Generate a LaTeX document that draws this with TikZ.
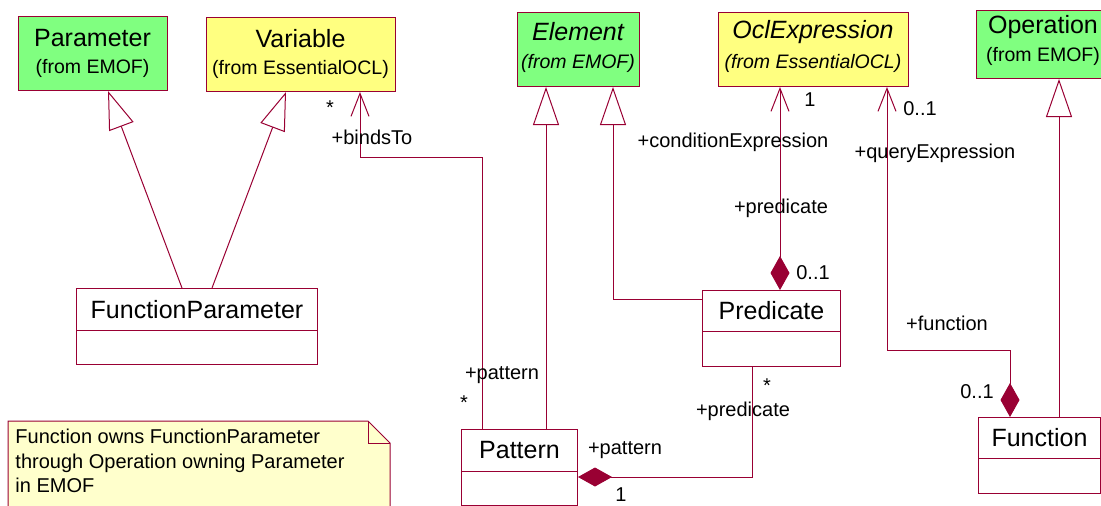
\documentclass[tikz,border=0pt]{standalone}
\usepackage{fontspec}
\setmainfont{Liberation Sans}
\usetikzlibrary{arrows.meta}
\definecolor{lc}{RGB}{153,0,51}
\definecolor{gfill}{RGB}{128,255,128}
\definecolor{yfill}{RGB}{255,255,128}
\definecolor{nfill}{RGB}{255,255,204}
\begin{document}
\begin{tikzpicture}[x=1pt,y=-1pt,line width=1pt,
  box/.style={draw=lc,inner sep=0pt,anchor=north west,font=\fontsize{25}{29}\selectfont},
  gbox/.style={box,fill=gfill},
  ybox/.style={box,fill=yfill},
  wbox/.style={box,fill=white},
  title/.style={inner sep=0pt,font=\fontsize{25}{29}\selectfont},
  sub/.style={inner sep=0pt,font=\fontsize{19.5}{23}\selectfont},
  lbl/.style={inner sep=0pt,font=\fontsize{20}{24}\selectfont},
  gen/.style={draw=lc,-{Triangle[open,length=38pt,width=26pt]}},
  nav/.style={draw=lc,-{Straight Barb[length=23pt,width=18pt]}},
  comp/.style={draw=lc,{Diamond[length=34pt,width=19pt,fill=lc]}-},
  compnav/.style={draw=lc,{Diamond[length=34pt,width=19pt,fill=lc]}-{Straight Barb[length=23pt,width=18pt]}}]
\useasboundingbox (0,0) rectangle (1101,506);
% header classes
\node[gbox,minimum width=149pt,minimum height=74pt] (param) at (18,16) {};
\node[title] (paramT) at (92.5,38) {Parameter};
\node[sub] (paramS) at (92.5,68) {(from EMOF)};
\node[ybox,minimum width=189pt,minimum height=74pt] (var) at (206,17) {};
\node[title] (varT) at (300.5,39) {Variable};
\node[sub] (varS) at (300.5,69) {(from EssentialOCL)};
\node[gbox,minimum width=122pt,minimum height=74pt] (elem) at (517,12) {};
\node[title,font=\fontsize{25}{29}\selectfont\itshape] (elemT) at (578,32) {Element};
\node[sub,font=\fontsize{19.5}{23}\selectfont\itshape] (elemS) at (578,63) {(from EMOF)};
\node[ybox,minimum width=190pt,minimum height=74pt] (ocl) at (718,12) {};
\node[title,font=\fontsize{25}{29}\selectfont\itshape] (oclT) at (813,32) {OclExpression};
\node[sub,font=\fontsize{19.5}{23}\selectfont\itshape] (oclS) at (813,63) {(from EssentialOCL)};
\node[gbox,minimum width=134pt,minimum height=68pt] (oper) at (976,10) {};
\node[title] (operT) at (1043,27) {Operation};
\node[sub] (operS) at (1043,56) {(from EMOF)};
% plain classes
\node[wbox,minimum width=241pt,minimum height=42pt] (fp) at (76,288) {FunctionParameter};
\node[wbox,minimum width=241pt,minimum height=34pt] (fpb) at (76,330) {};
\node[wbox,minimum width=138pt,minimum height=41pt] (pred) at (702,290) {Predicate};
\node[wbox,minimum width=138pt,minimum height=35pt] (predb) at (702,331) {};
\node[wbox,minimum width=116pt,minimum height=42pt] (pat) at (461,429) {Pattern};
\node[wbox,minimum width=116pt,minimum height=34pt] (patb) at (461,471) {};
\node[wbox,minimum width=122pt,minimum height=41pt] (func) at (978,417) {Function};
\node[wbox,minimum width=122pt,minimum height=35pt] (funcb) at (978,458) {};
% generalizations
\draw[gen] (fp.north -| 182,0) -- (param.south -| 108,0);
\draw[gen] (fp.north -| 212,0) -- (var.south -| 286,0);
\draw[gen] (pat.north -| 546,0) -- (elem.south -| 546,0);
\draw[gen] (pred.west |- 0,299) -| (elem.south -| 613,0);
\draw[gen] (func.north -| 1059,0) -- (oper.south -| 1059,0);
% associations
\draw[nav] (pat.north -| 482,0) -- (482,157) -- (360,157) -- (var.south -| 360,0);
\draw[compnav] (pred.north -| 780,0) -- (ocl.south -| 780,0);
\draw[compnav] (func.north -| 1010,0) -- (1010,350) -- (887,350) -- (ocl.south -| 887,0);
\draw[comp] (patb.east |- 0,477) -- (752,477) -- (predb.south -| 752,0);
% labels
\node[lbl] (l1) at (330,108) {*};
\node[lbl] (l2) at (372,137) {+bindsTo};
\node[lbl] (l3) at (810,100) {1};
\node[lbl] (l4) at (733,142) {+conditionExpression};
\node[lbl] (l5) at (781,208) {+predicate};
\node[lbl] (l6) at (813,273) {0..1};
\node[lbl] (l7) at (920,109) {0..1};
\node[lbl] (l8) at (935,153) {+queryExpression};
\node[lbl] (l9) at (947,323) {+function};
\node[lbl] (l10) at (977,392) {0..1};
\node[lbl] (l11) at (502,375) {+pattern};
\node[lbl] (l12) at (464,403) {*};
\node[lbl] (l13) at (767,386) {*};
\node[lbl] (l14) at (743,411) {+predicate};
\node[lbl] (l15) at (625,450) {+pattern};
\node[lbl] (l16) at (621,495) {1};
% note
\draw[draw=lc,fill=nfill] (8,421) -- (368,421) -- (390,443) -- (390,512) -- (8,512) -- cycle;
\draw[draw=lc] (368,421) -- (368,443) -- (390,443);
\node[lbl,anchor=west,align=left,font=\fontsize{20}{24.5}\selectfont] (note) at (15,461)
  {Function owns FunctionParameter\\through Operation owning Parameter\\in EMOF};
\end{tikzpicture}
\end{document}
